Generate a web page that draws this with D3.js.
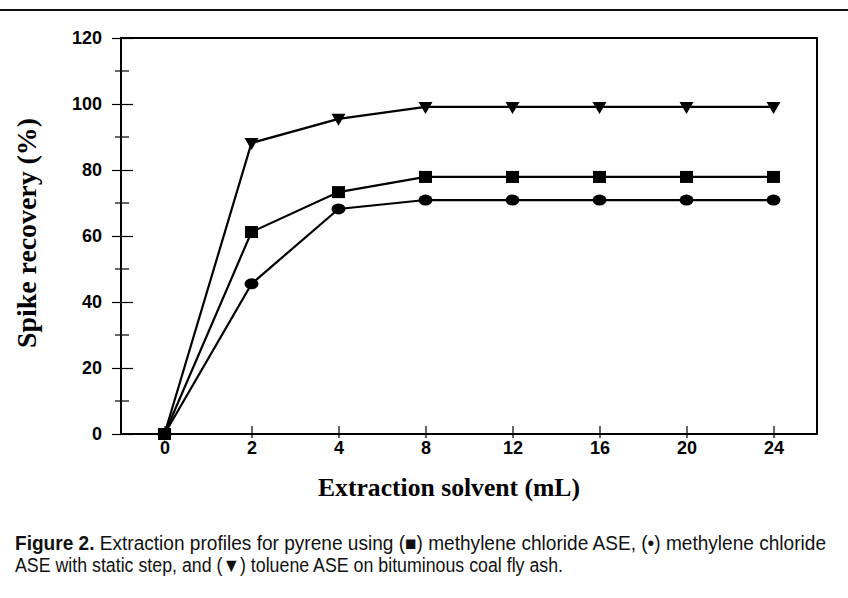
<!DOCTYPE html>
<html><head><meta charset="utf-8">
<script src="https://cdn.jsdelivr.net/npm/d3@7/dist/d3.min.js"></script>
<style>body{margin:0;background:#fff}</style>
</head><body>
<svg id="c" width="848" height="598"></svg>
<script>
const categories = ["0","2","4","8","12","16","20","24"];
const toluene = [0, 88.2, 95.5, 99.1, 99.1, 99.1, 99.1, 99.1];
const methyleneChloride = [0, 61.2, 73.3, 77.9, 77.9, 77.9, 77.9, 77.9];
const methyleneStatic = [0, 45.5, 68.2, 70.9, 70.9, 70.9, 70.9, 70.9];
const yTicks = [0,20,40,60,80,100,120];
const yMinor = [10,30,50,70,90,110];

const svg = d3.select("#c");
const L=121, R=817, T=38, B=434;
const x = d3.scalePoint().domain(categories).range([L,R]).padding(0.5);
const y = d3.scaleLinear().domain([0,120]).range([B,T]);

// top rule
svg.append("line").attr("x1",0).attr("x2",848).attr("y1",10).attr("y2",10).attr("stroke","#111").attr("stroke-width",2);

// frame
svg.append("rect").attr("x",L).attr("y",T).attr("width",R-L).attr("height",B-T)
  .attr("fill","none").attr("stroke","#000").attr("stroke-width",2);

// y axis
const ya = svg.append("g").attr("transform",`translate(${L},0)`)
  .call(d3.axisLeft(y).tickValues(yTicks).tickSize(9).tickFormat(d3.format("d")));
ya.select(".domain").remove();
ya.selectAll(".tick line").attr("x2",12).attr("x1",-9).attr("stroke-width",1.2);
ya.selectAll(".tick text").attr("x",-19).attr("font-family","Liberation Sans, Arial, sans-serif")
  .attr("font-weight","bold").attr("font-size",18).attr("fill","#000");
svg.append("g").selectAll("line").data(yMinor).join("line")
  .attr("x1",L-6).attr("x2",L+8).attr("y1",d=>y(d)).attr("y2",d=>y(d)).attr("stroke","#000").attr("stroke-width",1.2);

// x axis
const xa = svg.append("g").attr("transform",`translate(0,${B})`)
  .call(d3.axisBottom(x).tickSize(0));
xa.select(".domain").remove();
xa.selectAll(".tick line").attr("y1",-8).attr("y2",4).attr("stroke-width",1.2);
xa.selectAll(".tick text").attr("y",7).attr("dy","0.71em").attr("font-family","Liberation Sans, Arial, sans-serif")
  .attr("font-weight","bold").attr("font-size",18).attr("fill","#000");

// lines
const line = d3.line().x((d,i)=>x(categories[i])).y(d=>y(d));
[toluene, methyleneChloride, methyleneStatic].forEach(s=>{
  svg.append("path").datum(s).attr("d",line).attr("fill","none").attr("stroke","#000").attr("stroke-width",2.2);
});

// markers
const g = svg.append("g");
g.selectAll(".tri").data(toluene).join("path")
  .attr("d",(d,i)=>{const cx=x(categories[i]), cy=y(d); return `M${cx-7},${cy-5}L${cx+7},${cy-5}L${cx},${cy+7}Z`;})
  .attr("fill","#000");
g.selectAll(".sq").data(methyleneChloride).join("rect")
  .attr("x",(d,i)=>x(categories[i])-6.5).attr("y",d=>y(d)-6).attr("width",13).attr("height",12).attr("fill","#000");
g.selectAll(".ci").data(methyleneStatic).join("ellipse")
  .attr("cx",(d,i)=>x(categories[i])).attr("cy",d=>y(d)).attr("rx",7).attr("ry",5.5).attr("fill","#000");

// axis titles
svg.append("text").attr("x",449).attr("y",496).attr("text-anchor","middle")
  .attr("font-family","Liberation Serif, Times New Roman, serif").attr("font-weight","bold").attr("font-size",26)
  .attr("textLength",262).attr("lengthAdjust","spacingAndGlyphs")
  .text("Extraction solvent (mL)");
svg.append("text").attr("transform","translate(36,233) rotate(-90)").attr("text-anchor","middle")
  .attr("font-family","Liberation Serif, Times New Roman, serif").attr("font-weight","bold").attr("font-size",27)
  .attr("textLength",230).attr("lengthAdjust","spacingAndGlyphs")
  .text("Spike recovery (%)");

// caption
const cap1 = svg.append("text").attr("x",15).attr("y",550)
  .attr("font-family","Liberation Sans Narrow, Arial Narrow, sans-serif").attr("font-size",19.5).attr("fill","#111")
  .attr("textLength",811).attr("lengthAdjust","spacingAndGlyphs");
cap1.append("tspan").attr("font-weight","bold").text("Figure 2.");
cap1.append("tspan").text(" Extraction profiles for pyrene using (\u25A0) methylene chloride ASE, (\u2022) methylene chloride");
svg.append("text").attr("x",15).attr("y",572)
  .attr("font-family","Liberation Sans Narrow, Arial Narrow, sans-serif").attr("font-size",19.5).attr("fill","#111")
  .attr("textLength",548).attr("lengthAdjust","spacingAndGlyphs")
  .text("ASE with static step, and (\u25BC) toluene ASE on bituminous coal fly ash.");
</script>
</body></html>
